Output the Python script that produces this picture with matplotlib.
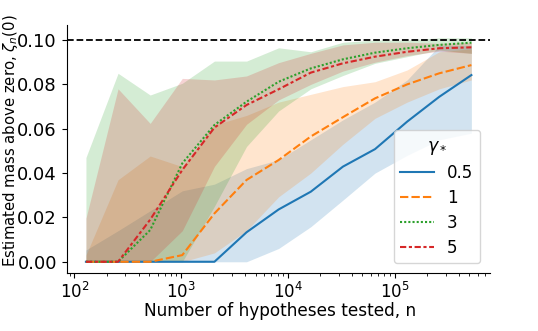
import numpy as np
import matplotlib
matplotlib.use("Agg")
import matplotlib.pyplot as plt

# number of hypotheses tested: 2^7 ... 2^19
n_tested = [128, 256, 512, 1024, 2048, 4096, 8192, 16384, 32768, 65536,
            131072, 262144, 524288]

gammas = ["0.5", "1", "3", "5"]

# estimated mass above zero (central line) per gamma
est_05 = [0, 0, 0, 0, 0, 0.0133, 0.0236, 0.0316, 0.0429, 0.0508, 0.0632, 0.0744, 0.0842]
est_1 = [0, 0, 0, 0.003, 0.0218, 0.0369, 0.0459, 0.0565, 0.0652, 0.0737, 0.0800, 0.0850, 0.0887]
est_3 = [0, 0, 0.0143, 0.0444, 0.0617, 0.0722, 0.0812, 0.0872, 0.0913, 0.0943, 0.0963, 0.0978, 0.0988]
est_5 = [0, 0, 0.0190, 0.0414, 0.0605, 0.0707, 0.0778, 0.0853, 0.0895, 0.0925, 0.0947, 0.0963, 0.0967]

# band lower / upper bounds
lo_05 = [0, 0, 0, 0, 0, 0, 0.006, 0.0158, 0.0278, 0.040, 0.048, 0.055, 0.058]
hi_05 = [0.0053, 0.014, 0.023, 0.032, 0.035, 0.042, 0.046, 0.055, 0.064, 0.072, 0.082, 0.0975, 0.0975]
lo_1 = [0, 0, 0, 0, 0.004, 0.014, 0.0293, 0.040, 0.053, 0.0647, 0.072, 0.078, 0.082]
hi_1 = [0.003, 0.037, 0.0477, 0.0429, 0.0617, 0.066, 0.072, 0.0755, 0.079, 0.0812, 0.0865, 0.0947, 0.096]
lo_3 = [0, 0, 0, 0, 0.025, 0.052, 0.068, 0.078, 0.084, 0.0895, 0.0925, 0.0955, 0.094]
hi_3 = [0.047, 0.085, 0.0752, 0.0805, 0.0905, 0.0905, 0.0965, 0.0947, 0.099, 0.100, 0.100, 0.101, 0.101]
lo_5 = [0, 0, 0, 0.014, 0.043, 0.062, 0.073, 0.080, 0.086, 0.090, 0.093, 0.095, 0.094]
hi_5 = [0.0196, 0.078, 0.0624, 0.0827, 0.082, 0.0838, 0.0898, 0.094, 0.0978, 0.099, 0.099, 0.0985, 0.099]

series = [
    (est_05, lo_05, hi_05, "#1f77b4", ""),
    (est_1, lo_1, hi_1, "#ff7f0e", (4, 1.5)),
    (est_3, lo_3, hi_3, "#2ca02c", (1, 1)),
    (est_5, lo_5, hi_5, "#d62728", (3, 1.25, 1.5, 1.25)),
]

plt.rcParams["font.size"] = 12

fig = plt.figure(figsize=(5.38, 3.31), dpi=100)
ax = fig.add_axes([66.6 / 538, 1 - 273.3 / 331, (490 - 66.6) / 538, (273.3 - 25.4) / 331])

for (est, lo, hi, col, dash), g in zip(series, gammas):
    ax.fill_between(n_tested, lo, hi, color=col, alpha=0.2, linewidth=0)
    line, = ax.plot(n_tested, est, color=col, lw=1.5, label=g)
    if dash:
        line.set_dashes(dash)

ax.axhline(0.1, color="black", ls="--", lw=1.3)
ax.set_xscale("log")
ax.set_xlim(10 ** 1.926, 10 ** 5.894)
ax.set_ylim(-0.0052, 0.1066)
ax.set_yticks([0, 0.02, 0.04, 0.06, 0.08, 0.10])
ax.set_yticklabels(["0.00", "0.02", "0.04", "0.06", "0.08", "0.10"])
ax.tick_params(axis="y", which="major", labelsize=13)
ax.tick_params(axis="x", which="major", labelsize=12, pad=2.5)
ax.spines["top"].set_visible(False)
ax.spines["right"].set_visible(False)

ax.set_xlabel("Number of hypotheses tested, n", fontsize=12.2)
ax.set_ylabel(r"Estimated mass above zero, $\zeta_n(0)$", fontsize=10.75)
ax.xaxis.set_label_coords(0.503, -0.114)
ax.yaxis.set_label_coords(-0.110, 0.535)
ax.legend(title=r"$\gamma_*$", loc="lower right", fontsize=12, title_fontsize=12.5,
          labelspacing=0.42, borderaxespad=0.6)

fig.savefig("out.png", dpi=100)
